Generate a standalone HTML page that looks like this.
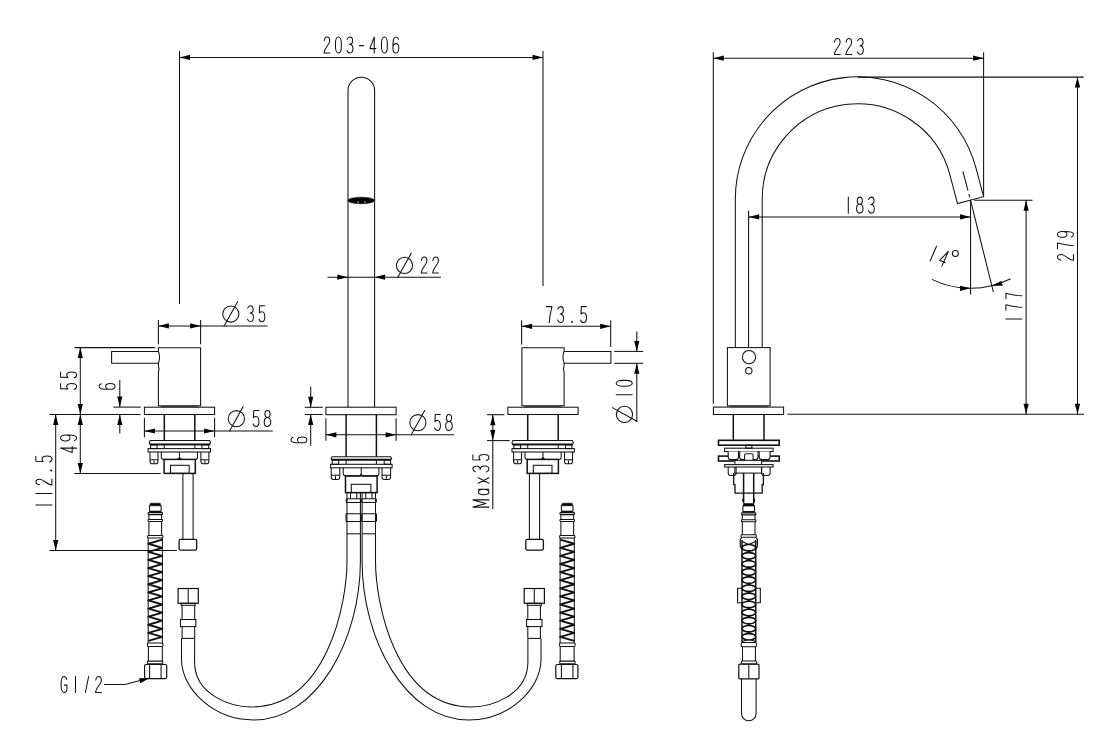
<!DOCTYPE html>
<html><head><meta charset="utf-8"><style>
html,body{margin:0;padding:0;background:#fff;}
svg{display:block;}
</style></head><body>
<svg width="1094" height="741" viewBox="0 0 1094 741">
<rect width="1094" height="741" fill="#fff"/>
<g fill="none" stroke="#111" stroke-width="1.05">
<g id="H"><path d="M158.4,347.8 H200.6 V405.8 H158.4 V373 Q159.7,369 158.4,365.3 V363.3 Q160.8,357.4 158.4,351.5 Z"/><rect x="160.8" y="405.4" width="37.6" height="1.8" stroke-width="0.01" fill="#555"/><path d="M158.4,351.5 H111.6 V363.3 H158.4"/><rect x="144.4" y="407.2" width="70.2" height="7.3"/><path d="M164.3,414.5 L164.3,440.5" stroke-width="1.5"/><path d="M194.8,414.5 L194.8,440.5" stroke-width="1.5"/><path d="M150.2,440.5 H209.6 L210.6,442.8 L209.6,444.8 H150.2 L149.2,442.8 Z"/><path d="M149.8,444.4 L210,444.4" stroke-width="1.6"/><rect x="150.6" y="444.8" width="6.4" height="3.8"/><rect x="201.9" y="444.8" width="6.8" height="3.8"/><path d="M164.3,444.8 L164.3,448.6"/><path d="M194.8,444.8 L194.8,448.6"/><rect x="148.1" y="448.6" width="62.4" height="3.4"/><path d="M150,452 V461.5 Q150,463.8 152.2,463.8 H155.8 Q158,463.8 158,461.5 V452"/><path d="M150,459.8 L158,459.8"/><path d="M154,460.5 L154,463.8"/><path d="M200.9,452 V461.5 Q200.9,463.8 203.1,463.8 H206.7 Q208.9,463.8 208.9,461.5 V452"/><path d="M200.9,459.8 L208.9,459.8"/><path d="M204.9,460.5 L204.9,463.8"/><path d="M161.3,452 V457.2 Q161.3,459.4 163.6,459.4 H176.8 Q179.5,459.4 179.5,456.5 Q179.5,459.4 182.2,459.4 H195.2 Q197.5,459.4 197.5,457.2 V452"/><path d="M179.5,452 L179.5,456.5"/><rect x="164.1" y="459.4" width="31.2" height="14" stroke-width="1.5"/><rect x="170.5" y="465.3" width="18.7" height="8.1"/><path d="M182.9,473.4 L182.9,539.3"/><path d="M193.1,473.4 L193.1,539.3"/><rect x="179.1" y="539.3" width="17.6" height="10.8" rx="1.6" stroke-width="1.3"/><path d="M150.5,503.2 H160.1 L161.1,505.8 H149.5 Z" stroke-width="0.6" fill="#000"/><path d="M149.5,505.5 L149.5,511.8"/><path d="M161.1,505.5 L161.1,511.8"/><path d="M149.5,511.5 L161.1,511.5" stroke-width="1.6"/><rect x="148" y="512.6" width="14.6" height="2" rx="0.8"/><path d="M148.9,514.6 L148.9,519.4"/><path d="M161.6,514.6 L161.6,519.4"/><rect x="148" y="519.4" width="14.6" height="2" rx="0.8"/><path d="M148.9,521.4 L148.9,535.4"/><path d="M161.6,521.4 L161.6,535.4"/><rect x="147.6" y="535.4" width="15.3" height="2.6" rx="0.8"/><path d="M148.2,538 L148.2,643"/><path d="M162.4,538 L162.4,643"/><path d="M162.3,539.7 L148.3,543.75 L162.3,547.8 L148.3,551.85 L162.3,555.9 L148.3,559.95 L162.3,564 L148.3,568.05 L162.3,572.1 L148.3,576.15 L162.3,580.2 L148.3,584.25 L162.3,588.3 L148.3,592.35 L162.3,596.4 L148.3,600.45 L162.3,604.5 L148.3,608.55 L162.3,612.6 L148.3,616.65 L162.3,620.7 L148.3,624.75 L162.3,628.8 L148.3,632.85 L162.3,636.9 L148.3,640.95" stroke-width="1.85" stroke-linejoin="round"/><rect x="147.4" y="643" width="15.5" height="3.4" rx="0.8"/><path d="M148.4,646.4 L148.4,661.1"/><path d="M162.3,646.4 L162.3,661.1"/><rect x="147.4" y="661.1" width="15.4" height="2.8" rx="0.8"/><rect x="144.6" y="664.5" width="22.1" height="14.2" rx="1.5" stroke-width="1.2"/><path d="M149.6,664.5 L149.6,678.7"/><path d="M161.1,664.5 L161.1,678.7"/><rect x="178.1" y="588.5" width="20.2" height="14.8" stroke-width="1.2"/><path d="M188.2,588.5 L188.2,603.3"/><rect x="181.1" y="603.3" width="14.2" height="2"/><path d="M182.1,605.3 L182.1,619.5"/><path d="M194.7,605.3 L194.7,619.5"/><rect x="180.5" y="619.5" width="15.4" height="7.1"/><path d="M182.1,626.6 L182.1,638.4"/><path d="M194.7,626.6 L194.7,638.4"/><path d="M181.5,638.4 L194.6,638.4"/><path d="M181.5,638.4 V659.56 C181.5,688.7 212.89,720.01 253.86,720.01 C317.19,720.01 360.4,639.28 360.4,561 V533.8"/><path d="M194.6,638.4 V662.03 C194.6,695.64 232.03,706.93 251.53,706.93 C327,706.93 347,603.17 347,561 V533.8"/><path d="M347,492.6 L347,533.8"/><path d="M360.4,492.6 L360.4,533.8"/><path d="M350.5,492.6 L350.5,498.8"/><path d="M356.8,492.6 L356.8,498.8"/><rect x="346.2" y="498.8" width="14.6" height="3.8" rx="0.8"/><rect x="346" y="513.7" width="14.8" height="7.8" rx="0.8"/><path d="M347,533.8 L360.4,533.8"/></g><use href="#H" transform="matrix(-1,0,0,1,722.5,0)"/><path d="M348,407.2 V90.5 A13.3,13.3 0 0 1 374.6,90.5 V407.2"/><ellipse cx="361.2" cy="200.5" rx="13.3" ry="3.3" stroke-width="0.6" fill="#000"/><path d="M357,202.1 H359 M364,202.1 H366" stroke="#fff" stroke-width="0.7"/><rect x="325.9" y="407.2" width="70.2" height="7.5"/><path d="M346.1,414.7 L346.1,456.7" stroke-width="1.5"/><path d="M376.4,414.7 L376.4,456.7" stroke-width="1.5"/><path d="M332.1,456.7 H390.6 L391.6,458.4 L390.6,459.9 H332.1 L331.1,458.4 Z"/><path d="M331.7,459.6 L391,459.6" stroke-width="1.6"/><rect x="332.2" y="459.9" width="6.4" height="4.4"/><rect x="384.2" y="459.9" width="6.4" height="4.4"/><path d="M346.1,459.9 L346.1,464.3"/><path d="M376.4,459.9 L376.4,464.3"/><rect x="330.6" y="464.3" width="61.5" height="3.5"/><path d="M331.2,467.8 V477 Q331.2,479.4 333.5,479.4 H337.5 Q339.8,479.4 339.8,477 V467.8"/><path d="M331.2,475.2 L339.8,475.2"/><path d="M335.5,476 L335.5,479.4"/><path d="M382,467.8 V477 Q382,479.4 384.3,479.4 H388.3 Q390.6,479.4 390.6,477 V467.8"/><path d="M382,475.2 L390.6,475.2"/><path d="M386.3,476 L386.3,479.4"/><path d="M343.2,467.8 V473.6 Q343.2,475.9 345.6,475.9 H358.2 Q361.2,475.9 361.2,472.8 Q361.2,475.9 364.2,475.9 H376.6 Q378.9,475.9 378.9,473.6 V467.8"/><path d="M361.2,467.8 L361.2,472.8"/><rect x="345.5" y="475.9" width="31.6" height="16.7" stroke-width="1.5"/><rect x="351.3" y="484.3" width="19.6" height="8.3"/><path d="M179.5,51 L179.5,304"/><path d="M543,51 L543,286"/><path d="M179.5,57.4 L543,57.4"/><path d="M179.5,57.4 L190,54.8 L190,60 Z" fill="#000" stroke="none"/><path d="M543,57.4 L532.5,60 L532.5,54.8 Z" fill="#000" stroke="none"/><g transform="translate(326.9,37)" stroke-width="1.05" stroke-linejoin="round" stroke-linecap="round"><path transform="translate(0,0)" d="M -2.752 3.6 C -2.236 0.8 -1.032 0 0.086 0 C 1.806 0 2.838 1.6 2.838 3.9 C 2.838 7.6 -2.838 11.2 -2.924 16 H 2.924"/><path transform="translate(11.5,0)" d="M -2.924 6.3 A 2.924 6.3 0 0 1 2.924 6.3 V 9.7 A 2.924 6.3 0 0 1 -2.924 9.7 Z"/><path transform="translate(23,0)" d="M -2.752 2.4 C -2.064 0.7 -1.032 0 0.086 0 C 1.634 0 2.752 1.6 2.752 3.7 C 2.752 5.8 1.548 7.3 -0.43 7.3 C 1.806 7.3 3.01 9.2 3.01 11.6 C 3.01 14.4 1.72 16 0 16 C -1.29 16 -2.408 15 -2.924 13.5"/><path transform="translate(34.5,0)" d="M -2.064 8.6 H 2.064"/><path transform="translate(46,0)" d="M 1.376 0 L -3.01 11.6 H 3.01 M 1.376 0 V 16"/><path transform="translate(57.5,0)" d="M -2.924 6.3 A 2.924 6.3 0 0 1 2.924 6.3 V 9.7 A 2.924 6.3 0 0 1 -2.924 9.7 Z"/><path transform="translate(69,0)" d="M 2.58 2.2 C 1.978 0.7 1.118 0 0 0 C -2.064 0 -2.924 3.2 -2.924 8.2 V 11.2 C -2.924 14.4 -1.634 16 0 16 C 1.72 16 2.924 14.3 2.924 11.2 C 2.924 8.3 1.72 6.6 0 6.6 C -1.634 6.6 -2.924 8.3 -2.924 10.6"/></g><path d="M327.5,277.2 L440.9,277.2"/><path d="M347.8,277.2 L337.3,279.8 L337.3,274.6 Z" fill="#000" stroke="none"/><path d="M374.6,277.2 L385.1,274.6 L385.1,279.8 Z" fill="#000" stroke="none"/><g transform="translate(404.5,257)" stroke-width="1.05" stroke-linejoin="round" stroke-linecap="round"><circle cx="0" cy="8.3" r="8.1"/><path d="M-6.8,20.6 L6.8,-3.9"/><path transform="translate(19.6,0)" d="M -2.752 3.6 C -2.236 0.8 -1.032 0 0.086 0 C 1.806 0 2.838 1.6 2.838 3.9 C 2.838 7.6 -2.838 11.2 -2.924 16 H 2.924"/><path transform="translate(31.1,0)" d="M -2.752 3.6 C -2.236 0.8 -1.032 0 0.086 0 C 1.806 0 2.838 1.6 2.838 3.9 C 2.838 7.6 -2.838 11.2 -2.924 16 H 2.924"/></g><path d="M158.4,320 L158.4,344.2"/><path d="M200.6,320 L200.6,344.2"/><path d="M158.4,325.9 L267.6,325.9"/><path d="M158.4,325.9 L168.9,323.3 L168.9,328.5 Z" fill="#000" stroke="none"/><path d="M200.6,325.9 L190.1,328.5 L190.1,323.3 Z" fill="#000" stroke="none"/><g transform="translate(230.8,305.7)" stroke-width="1.05" stroke-linejoin="round" stroke-linecap="round"><circle cx="0" cy="8.3" r="8.1"/><path d="M-6.8,20.6 L6.8,-3.9"/><path transform="translate(19.6,0)" d="M -2.752 2.4 C -2.064 0.7 -1.032 0 0.086 0 C 1.634 0 2.752 1.6 2.752 3.7 C 2.752 5.8 1.548 7.3 -0.43 7.3 C 1.806 7.3 3.01 9.2 3.01 11.6 C 3.01 14.4 1.72 16 0 16 C -1.29 16 -2.408 15 -2.924 13.5"/><path transform="translate(31.1,0)" d="M 2.752 0 H -2.236 L -2.58 7.3 C -1.806 6.5 -0.86 6.1 0.172 6.1 C 1.892 6.1 2.924 8.2 2.924 11 C 2.924 14 1.72 16 0 16 C -1.376 16 -2.494 15 -2.924 13.5"/></g><path d="M74.5,347.6 L155.2,347.6"/><path d="M80.3,347.6 L80.3,414.4"/><path d="M80.3,347.6 L82.9,358.1 L77.7,358.1 Z" fill="#000" stroke="none"/><path d="M80.3,414.4 L77.7,403.9 L82.9,403.9 Z" fill="#000" stroke="none"/><g transform="translate(60.6,386.4) rotate(-90)" stroke-width="1.05" stroke-linejoin="round" stroke-linecap="round"><path transform="translate(0,0)" d="M 2.752 0 H -2.236 L -2.58 7.3 C -1.806 6.5 -0.86 6.1 0.172 6.1 C 1.892 6.1 2.924 8.2 2.924 11 C 2.924 14 1.72 16 0 16 C -1.376 16 -2.494 15 -2.924 13.5"/><path transform="translate(11.5,0)" d="M 2.752 0 H -2.236 L -2.58 7.3 C -1.806 6.5 -0.86 6.1 0.172 6.1 C 1.892 6.1 2.924 8.2 2.924 11 C 2.924 14 1.72 16 0 16 C -1.376 16 -2.494 15 -2.924 13.5"/></g><path d="M113.3,407.1 L140.8,407.1"/><path d="M119.8,380.1 L119.8,407.1"/><path d="M119.8,407.1 L117.2,396.6 L122.4,396.6 Z" fill="#000" stroke="none"/><path d="M119.8,414.4 L119.8,433.4"/><path d="M119.8,414.4 L122.4,424.9 L117.2,424.9 Z" fill="#000" stroke="none"/><g transform="translate(99,386.4) rotate(-90)" stroke-width="1.05" stroke-linejoin="round" stroke-linecap="round"><path transform="translate(0,0)" d="M 2.58 2.2 C 1.978 0.7 1.118 0 0 0 C -2.064 0 -2.924 3.2 -2.924 8.2 V 11.2 C -2.924 14.4 -1.634 16 0 16 C 1.72 16 2.924 14.3 2.924 11.2 C 2.924 8.3 1.72 6.6 0 6.6 C -1.634 6.6 -2.924 8.3 -2.924 10.6"/></g><path d="M49.4,414.4 L140.6,414.4"/><path d="M80.3,414.4 L80.3,473.4"/><path d="M80.3,414.4 L82.9,424.9 L77.7,424.9 Z" fill="#000" stroke="none"/><path d="M80.3,473.4 L77.7,462.9 L82.9,462.9 Z" fill="#000" stroke="none"/><path d="M74.3,473.4 L160.7,473.4"/><g transform="translate(60.6,449.5) rotate(-90)" stroke-width="1.05" stroke-linejoin="round" stroke-linecap="round"><path transform="translate(0,0)" d="M 1.376 0 L -3.01 11.6 H 3.01 M 1.376 0 V 16"/><path transform="translate(11.5,0)" d="M -2.58 13.8 C -1.978 15.3 -1.118 16 0 16 C 2.064 16 2.924 12.8 2.924 7.8 V 4.8 C 2.924 1.6 1.634 0 0 0 C -1.72 0 -2.924 1.7 -2.924 4.8 C -2.924 7.7 -1.72 9.4 0 9.4 C 1.634 9.4 2.924 7.7 2.924 5.4"/></g><path d="M55.7,414.4 L55.7,550.5"/><path d="M55.7,414.4 L58.3,424.9 L53.1,424.9 Z" fill="#000" stroke="none"/><path d="M55.7,550.5 L53.1,540 L58.3,540 Z" fill="#000" stroke="none"/><path d="M49.4,550.5 L176.9,550.5"/><g transform="translate(35.9,505) rotate(-90)" stroke-width="1.05" stroke-linejoin="round" stroke-linecap="round"><path transform="translate(0,0)" d="M 0 0 V 16"/><path transform="translate(11.5,0)" d="M 0 0 V 16"/><path transform="translate(23,0)" d="M -2.752 3.6 C -2.236 0.8 -1.032 0 0.086 0 C 1.806 0 2.838 1.6 2.838 3.9 C 2.838 7.6 -2.838 11.2 -2.924 16 H 2.924"/><circle cx="34.5" cy="15.3" r="0.95" fill="#000" stroke="none"/><path transform="translate(46,0)" d="M 2.752 0 H -2.236 L -2.58 7.3 C -1.806 6.5 -0.86 6.1 0.172 6.1 C 1.892 6.1 2.924 8.2 2.924 11 C 2.924 14 1.72 16 0 16 C -1.376 16 -2.494 15 -2.924 13.5"/></g><path d="M144.4,417.8 L144.4,437.3"/><path d="M214.6,417.8 L214.6,437.3"/><path d="M144.4,431 L272.8,431"/><path d="M144.4,431 L154.9,428.4 L154.9,433.6 Z" fill="#000" stroke="none"/><path d="M214.6,431 L204.1,433.6 L204.1,428.4 Z" fill="#000" stroke="none"/><g transform="translate(236.4,410.4)" stroke-width="1.05" stroke-linejoin="round" stroke-linecap="round"><circle cx="0" cy="8.3" r="8.1"/><path d="M-6.8,20.6 L6.8,-3.9"/><path transform="translate(19.6,0)" d="M 2.752 0 H -2.236 L -2.58 7.3 C -1.806 6.5 -0.86 6.1 0.172 6.1 C 1.892 6.1 2.924 8.2 2.924 11 C 2.924 14 1.72 16 0 16 C -1.376 16 -2.494 15 -2.924 13.5"/><path transform="translate(31.1,0)" d="M 0 7.1 C -1.634 7.1 -2.58 5.6 -2.58 3.6 C -2.58 1.5 -1.548 0 0 0 C 1.548 0 2.58 1.5 2.58 3.6 C 2.58 5.6 1.634 7.1 0 7.1 C -1.978 7.1 -3.268 9 -3.268 11.5 C -3.268 14.2 -1.806 16 0 16 C 1.806 16 3.268 14.2 3.268 11.5 C 3.268 9 1.978 7.1 0 7.1 Z"/></g><path d="M304.8,407.3 L322.8,407.3"/><path d="M304.8,414.5 L322.8,414.5"/><path d="M310.7,386.6 L310.7,407.3"/><path d="M310.7,407.3 L308.1,396.8 L313.3,396.8 Z" fill="#000" stroke="none"/><path d="M310.7,414.5 L310.7,445.7"/><path d="M310.7,414.5 L313.3,425 L308.1,425 Z" fill="#000" stroke="none"/><g transform="translate(290.9,439.9) rotate(-90)" stroke-width="1.05" stroke-linejoin="round" stroke-linecap="round"><path transform="translate(0,0)" d="M 2.58 2.2 C 1.978 0.7 1.118 0 0 0 C -2.064 0 -2.924 3.2 -2.924 8.2 V 11.2 C -2.924 14.4 -1.634 16 0 16 C 1.72 16 2.924 14.3 2.924 11.2 C 2.924 8.3 1.72 6.6 0 6.6 C -1.634 6.6 -2.924 8.3 -2.924 10.6"/></g><path d="M325.9,418.2 L325.9,440.8"/><path d="M396.1,418.2 L396.1,440.8"/><path d="M325.9,434.8 L454.1,434.8"/><path d="M325.9,434.8 L336.4,432.2 L336.4,437.4 Z" fill="#000" stroke="none"/><path d="M396.1,434.8 L385.6,437.4 L385.6,432.2 Z" fill="#000" stroke="none"/><g transform="translate(417.9,414.4)" stroke-width="1.05" stroke-linejoin="round" stroke-linecap="round"><circle cx="0" cy="8.3" r="8.1"/><path d="M-6.8,20.6 L6.8,-3.9"/><path transform="translate(19.6,0)" d="M 2.752 0 H -2.236 L -2.58 7.3 C -1.806 6.5 -0.86 6.1 0.172 6.1 C 1.892 6.1 2.924 8.2 2.924 11 C 2.924 14 1.72 16 0 16 C -1.376 16 -2.494 15 -2.924 13.5"/><path transform="translate(31.1,0)" d="M 0 7.1 C -1.634 7.1 -2.58 5.6 -2.58 3.6 C -2.58 1.5 -1.548 0 0 0 C 1.548 0 2.58 1.5 2.58 3.6 C 2.58 5.6 1.634 7.1 0 7.1 C -1.978 7.1 -3.268 9 -3.268 11.5 C -3.268 14.2 -1.806 16 0 16 C 1.806 16 3.268 14.2 3.268 11.5 C 3.268 9 1.978 7.1 0 7.1 Z"/></g><path d="M521.6,320.2 L521.6,344.8"/><path d="M610.7,320.2 L610.7,347"/><path d="M521.6,326.3 L610.7,326.3"/><path d="M521.6,326.3 L532.1,323.7 L532.1,328.9 Z" fill="#000" stroke="none"/><path d="M610.7,326.3 L600.2,328.9 L600.2,323.7 Z" fill="#000" stroke="none"/><g transform="translate(549.1,306.6)" stroke-width="1.05" stroke-linejoin="round" stroke-linecap="round"><path transform="translate(0,0)" d="M -2.838 0 H 2.838 C 1.806 4 0.516 9.5 0.172 16"/><path transform="translate(11.5,0)" d="M -2.752 2.4 C -2.064 0.7 -1.032 0 0.086 0 C 1.634 0 2.752 1.6 2.752 3.7 C 2.752 5.8 1.548 7.3 -0.43 7.3 C 1.806 7.3 3.01 9.2 3.01 11.6 C 3.01 14.4 1.72 16 0 16 C -1.29 16 -2.408 15 -2.924 13.5"/><circle cx="23" cy="15.3" r="0.95" fill="#000" stroke="none"/><path transform="translate(34.5,0)" d="M 2.752 0 H -2.236 L -2.58 7.3 C -1.806 6.5 -0.86 6.1 0.172 6.1 C 1.892 6.1 2.924 8.2 2.924 11 C 2.924 14 1.72 16 0 16 C -1.376 16 -2.494 15 -2.924 13.5"/></g><path d="M614.2,351.4 L643.2,351.4"/><path d="M614.2,363.3 L643.2,363.3"/><path d="M636.8,331.4 L636.8,351.4"/><path d="M636.8,351.4 L634.2,340.9 L639.4,340.9 Z" fill="#000" stroke="none"/><path d="M636.8,363.3 L636.8,421.9"/><path d="M636.8,363.3 L639.4,373.8 L634.2,373.8 Z" fill="#000" stroke="none"/><g transform="translate(616.2,414.4) rotate(-90)" stroke-width="1.05" stroke-linejoin="round" stroke-linecap="round"><circle cx="0" cy="8.3" r="8.1"/><path d="M-6.8,20.6 L6.8,-3.9"/><path transform="translate(19.6,0)" d="M 0 0 V 16"/><path transform="translate(31.1,0)" d="M -2.924 6.3 A 2.924 6.3 0 0 1 2.924 6.3 V 9.7 A 2.924 6.3 0 0 1 -2.924 9.7 Z"/></g><path d="M487,414.7 L504.3,414.7"/><path d="M487,440.6 L509.7,440.6"/><path d="M492.8,414.7 L492.8,509.1"/><path d="M492.8,414.7 L495.4,425.2 L490.2,425.2 Z" fill="#000" stroke="none"/><path d="M492.8,440.6 L490.2,430.1 L495.4,430.1 Z" fill="#000" stroke="none"/><g transform="translate(472.9,503.5) rotate(-90)" stroke-width="1.05" stroke-linejoin="round" stroke-linecap="round"><path transform="translate(0,0)" d="M -3.612 16 V 0 L 0 13 L 3.612 0 V 16"/><path transform="translate(11.5,0)" d="M 2.752 5.4 V 16 M 2.752 10.7 C 2.752 7.4 1.548 5.4 0 5.4 C -1.634 5.4 -2.752 7.6 -2.752 10.7 C -2.752 13.8 -1.634 16 0 16 C 1.548 16 2.752 14 2.752 10.7"/><path transform="translate(23,0)" d="M -2.666 5.4 L 2.666 16 M 2.666 5.4 L -2.666 16"/><path transform="translate(34.5,0)" d="M -2.752 2.4 C -2.064 0.7 -1.032 0 0.086 0 C 1.634 0 2.752 1.6 2.752 3.7 C 2.752 5.8 1.548 7.3 -0.43 7.3 C 1.806 7.3 3.01 9.2 3.01 11.6 C 3.01 14.4 1.72 16 0 16 C -1.29 16 -2.408 15 -2.924 13.5"/><path transform="translate(46,0)" d="M 2.752 0 H -2.236 L -2.58 7.3 C -1.806 6.5 -0.86 6.1 0.172 6.1 C 1.892 6.1 2.924 8.2 2.924 11 C 2.924 14 1.72 16 0 16 C -1.376 16 -2.494 15 -2.924 13.5"/></g><g transform="translate(64,676.5)" stroke-width="1.05" stroke-linejoin="round" stroke-linecap="round"><path transform="translate(0,0)" d="M 2.752 2.8 C 2.236 0.9 1.204 0 0 0 C -1.892 0 -2.924 3 -2.924 8 C -2.924 13 -1.892 16 0 16 C 1.462 16 2.752 14.6 2.924 12.2 V 8.6 H 0.258"/><path transform="translate(11.5,0)" d="M 0 0 V 16"/><path transform="translate(23,0)" d="M -1.634 16 L 1.634 0"/><path transform="translate(34.5,0)" d="M -2.752 3.6 C -2.236 0.8 -1.032 0 0.086 0 C 1.806 0 2.838 1.6 2.838 3.9 C 2.838 7.6 -2.838 11.2 -2.924 16 H 2.924"/></g><path d="M104,684.4 L124.9,684.4 L149.8,678.1"/><path d="M149.8,678.1 L140.26,683.2 L138.98,678.15 Z" fill="#000" stroke="none"/><path d="M735.3,347.6 V199.2 A122.35,122.35 0 0 1 975.94,167.95 L983.6,196.7 L957.5,203.6 L949.93,174.82 A95.45,95.45 0 0 0 762.2,199.2 V347.6"/><path d="M962.9,171.4 L967.96,190.54"/><path d="M968.88,194.02 L969.77,197.41"/><path d="M713.3,52.3 L713.3,403.7"/><path d="M983.6,52.3 L983.6,196.7"/><path d="M713.3,58.2 L983.6,58.2"/><path d="M713.3,58.2 L723.8,55.6 L723.8,60.8 Z" fill="#000" stroke="none"/><path d="M983.6,58.2 L973.1,60.8 L973.1,55.6 Z" fill="#000" stroke="none"/><g transform="translate(837.3,38.5)" stroke-width="1.05" stroke-linejoin="round" stroke-linecap="round"><path transform="translate(0,0)" d="M -2.752 3.6 C -2.236 0.8 -1.032 0 0.086 0 C 1.806 0 2.838 1.6 2.838 3.9 C 2.838 7.6 -2.838 11.2 -2.924 16 H 2.924"/><path transform="translate(11.5,0)" d="M -2.752 3.6 C -2.236 0.8 -1.032 0 0.086 0 C 1.806 0 2.838 1.6 2.838 3.9 C 2.838 7.6 -2.838 11.2 -2.924 16 H 2.924"/><path transform="translate(23,0)" d="M -2.752 2.4 C -2.064 0.7 -1.032 0 0.086 0 C 1.634 0 2.752 1.6 2.752 3.7 C 2.752 5.8 1.548 7.3 -0.43 7.3 C 1.806 7.3 3.01 9.2 3.01 11.6 C 3.01 14.4 1.72 16 0 16 C -1.29 16 -2.408 15 -2.924 13.5"/></g><path d="M748.6,210.8 L748.6,347.6"/><path d="M748.6,216.9 L970.55,216.9"/><path d="M748.6,216.9 L759.1,214.3 L759.1,219.5 Z" fill="#000" stroke="none"/><path d="M970.55,216.9 L960.05,219.5 L960.05,214.3 Z" fill="#000" stroke="none"/><g transform="translate(848.3,197.1)" stroke-width="1.05" stroke-linejoin="round" stroke-linecap="round"><path transform="translate(0,0)" d="M 0 0 V 16"/><path transform="translate(11.5,0)" d="M 0 7.1 C -1.634 7.1 -2.58 5.6 -2.58 3.6 C -2.58 1.5 -1.548 0 0 0 C 1.548 0 2.58 1.5 2.58 3.6 C 2.58 5.6 1.634 7.1 0 7.1 C -1.978 7.1 -3.268 9 -3.268 11.5 C -3.268 14.2 -1.806 16 0 16 C 1.806 16 3.268 14.2 3.268 11.5 C 3.268 9 1.978 7.1 0 7.1 Z"/><path transform="translate(23,0)" d="M -2.752 2.4 C -2.064 0.7 -1.032 0 0.086 0 C 1.634 0 2.752 1.6 2.752 3.7 C 2.752 5.8 1.548 7.3 -0.43 7.3 C 1.806 7.3 3.01 9.2 3.01 11.6 C 3.01 14.4 1.72 16 0 16 C -1.29 16 -2.408 15 -2.924 13.5"/></g><path d="M970.55,200.3 L970.55,294.6"/><path d="M970.55,200.3 L993.36,291.8"/><path d="M931.9,279.4 A88.2,88.2 0 0 0 1010.6,278.7"/><path d="M970.55,288.35 L960.05,290.95 L960.05,285.75 Z" fill="#000" stroke="none"/><path d="M991.89,285.73 L1001.45,280.67 L1002.7,285.71 Z" fill="#000" stroke="none"/><g transform="translate(936.5,246.3) rotate(23.6)" stroke-width="1.05" stroke-linejoin="round" stroke-linecap="round"><path transform="translate(0,0)" d="M 0 0 V 16"/><path transform="translate(11.5,0)" d="M 1.376 0 L -3.01 11.6 H 3.01 M 1.376 0 V 16"/></g><circle cx="955.4" cy="253.4" r="3" stroke-width="1.05"/><path d="M974.3,200.3 L1032.5,200.3"/><path d="M1026.1,200.3 L1026.1,414.3"/><path d="M1026.1,200.3 L1028.7,210.8 L1023.5,210.8 Z" fill="#000" stroke="none"/><path d="M1026.1,414.3 L1023.5,403.8 L1028.7,403.8 Z" fill="#000" stroke="none"/><g transform="translate(1005.9,319) rotate(-90)" stroke-width="1.05" stroke-linejoin="round" stroke-linecap="round"><path transform="translate(0,0)" d="M 0 0 V 16"/><path transform="translate(11.5,0)" d="M -2.838 0 H 2.838 C 1.806 4 0.516 9.5 0.172 16"/><path transform="translate(23,0)" d="M -2.838 0 H 2.838 C 1.806 4 0.516 9.5 0.172 16"/></g><path d="M858,77.1 L1083.7,77.1"/><path d="M1077.5,77.1 L1077.5,414.3"/><path d="M1077.5,77.1 L1080.1,87.6 L1074.9,87.6 Z" fill="#000" stroke="none"/><path d="M1077.5,414.3 L1074.9,403.8 L1080.1,403.8 Z" fill="#000" stroke="none"/><g transform="translate(1057.5,257.4) rotate(-90)" stroke-width="1.05" stroke-linejoin="round" stroke-linecap="round"><path transform="translate(0,0)" d="M -2.752 3.6 C -2.236 0.8 -1.032 0 0.086 0 C 1.806 0 2.838 1.6 2.838 3.9 C 2.838 7.6 -2.838 11.2 -2.924 16 H 2.924"/><path transform="translate(11.5,0)" d="M -2.838 0 H 2.838 C 1.806 4 0.516 9.5 0.172 16"/><path transform="translate(23,0)" d="M -2.58 13.8 C -1.978 15.3 -1.118 16 0 16 C 2.064 16 2.924 12.8 2.924 7.8 V 4.8 C 2.924 1.6 1.634 0 0 0 C -1.72 0 -2.924 1.7 -2.924 4.8 C -2.924 7.7 -1.72 9.4 0 9.4 C 1.634 9.4 2.924 7.7 2.924 5.4"/></g><path d="M787.4,414.3 L1084,414.3"/><rect x="727.4" y="347.6" width="42.7" height="58.2"/><rect x="729.8" y="405.4" width="38" height="1.8" stroke-width="0.01" fill="#555"/><circle cx="749" cy="357.1" r="6.6"/><circle cx="748.8" cy="370.7" r="3.2"/><rect x="713.4" y="407.1" width="70.2" height="7.4"/><path d="M733.3,414.5 L733.3,440.3" stroke-width="1.5"/><path d="M764,414.5 L764,440.3" stroke-width="1.5"/><rect x="718.5" y="440.3" width="60.7" height="4.9" stroke-width="1.6"/><rect x="745.8" y="445.2" width="6.1" height="3"/><rect x="724.6" y="448.2" width="48.5" height="3.4"/><rect x="718.5" y="456.1" width="60.7" height="4.9" stroke-width="1.6"/><path d="M728.2,451.6 V457 Q728.2,459.6 730.7,459.6 H736 Q738.5,459.6 738.5,457 V451.6" fill="#fff"/><path d="M759.2,451.6 V457 Q759.2,459.6 761.7,459.6 H767.6 Q770.1,459.6 770.1,457 V451.6" fill="#fff"/><path d="M739.7,451.6 V457 Q739.7,459.6 742.2,459.6 H755.5 Q758,459.6 758,457 V451.6" fill="#fff"/><rect x="744.6" y="453.7" width="8.5" height="9.7" rx="1.2" fill="#fff"/><rect x="734.9" y="460.3" width="26.7" height="12.8" fill="#fff"/><rect x="724.6" y="464.6" width="48.5" height="2.4" fill="#fff"/><path d="M728.2,467 V473 Q728.2,475.5 730.6,475.5 H733.7 Q736.1,475.5 736.1,473 V467"/><path d="M761.6,467 V473 Q761.6,475.5 764,475.5 H767.7 Q770.1,475.5 770.1,473 V467"/><path d="M733.7,473 V484.6 H735 V493.1 H762.2 V484.6 H763.4 V473" stroke-width="1.3"/><path d="M743.6,473 L743.6,503.6" stroke-width="1.5"/><path d="M753.7,473 L753.7,503.6" stroke-width="1.5"/><path d="M743.6,498.6 Q741.6,500.4 743.6,502.2 M753.7,498.6 Q755.7,500.4 753.7,502.2"/><g transform="translate(593.4,0.3)"><path d="M150.5,503.2 H160.1 L161.1,505.8 H149.5 Z" stroke-width="0.6" fill="#000"/><path d="M149.5,505.5 L149.5,511.8"/><path d="M161.1,505.5 L161.1,511.8"/><path d="M149.5,511.5 L161.1,511.5" stroke-width="1.6"/><rect x="148" y="512.6" width="14.6" height="2" rx="0.8"/><path d="M148.9,514.6 L148.9,519.4"/><path d="M161.6,514.6 L161.6,519.4"/><rect x="148" y="519.4" width="14.6" height="2" rx="0.8"/><path d="M148.9,521.4 L148.9,534.4"/><path d="M161.6,521.4 L161.6,534.4"/><rect x="147.6" y="534.4" width="15.3" height="2.6" rx="0.8"/></g><path d="M742,537.3 L740.3,539.5 V546.5 L742,549.5 M755.7,537.3 L757.4,539.5 V546.5 L755.7,549.5" stroke-width="1.2"/><path d="M742.2,541.5 L755.5,547.7" stroke-width="1.3"/><path d="M755.5,541.5 L742.2,547.7" stroke-width="1.3"/><path d="M742.2,547.7 L755.5,555.8" stroke-width="1.3"/><path d="M755.5,547.7 L742.2,555.8" stroke-width="1.3"/><path d="M742.2,555.8 L755.5,563.9" stroke-width="1.3"/><path d="M755.5,555.8 L742.2,563.9" stroke-width="1.3"/><path d="M742.2,563.9 L755.5,572" stroke-width="1.3"/><path d="M755.5,563.9 L742.2,572" stroke-width="1.3"/><path d="M742.2,572 L755.5,580.1" stroke-width="1.3"/><path d="M755.5,572 L742.2,580.1" stroke-width="1.3"/><path d="M742.2,580.1 L755.5,588.2" stroke-width="1.3"/><path d="M755.5,580.1 L742.2,588.2" stroke-width="1.3"/><path d="M742.2,588.2 L755.5,596.3" stroke-width="1.3"/><path d="M755.5,588.2 L742.2,596.3" stroke-width="1.3"/><path d="M742.2,596.3 L755.5,604.4" stroke-width="1.3"/><path d="M755.5,596.3 L742.2,604.4" stroke-width="1.3"/><path d="M742.2,604.4 L755.5,612.5" stroke-width="1.3"/><path d="M755.5,604.4 L742.2,612.5" stroke-width="1.3"/><path d="M742.2,612.5 L755.5,620.6" stroke-width="1.3"/><path d="M755.5,612.5 L742.2,620.6" stroke-width="1.3"/><path d="M742.2,620.6 L755.5,628.7" stroke-width="1.3"/><path d="M755.5,620.6 L742.2,628.7" stroke-width="1.3"/><path d="M742.2,628.7 L755.5,636.8" stroke-width="1.3"/><path d="M755.5,628.7 L742.2,636.8" stroke-width="1.3"/><path d="M742.2,636.8 L755.5,641.5" stroke-width="1.3"/><path d="M755.5,636.8 L742.2,641.5" stroke-width="1.3"/><path d="M742,540 L742,642.4" stroke-width="1.5"/><path d="M755.7,540 L755.7,642.4" stroke-width="1.5"/><ellipse cx="748.85" cy="547.7" rx="6.8" ry="3.2" stroke-width="1.6" fill="#fff"/><ellipse cx="748.85" cy="555.8" rx="6.8" ry="3.2" stroke-width="1.6" fill="#fff"/><ellipse cx="748.85" cy="563.9" rx="6.8" ry="3.2" stroke-width="1.6" fill="#fff"/><ellipse cx="748.85" cy="572" rx="6.8" ry="3.2" stroke-width="1.6" fill="#fff"/><ellipse cx="748.85" cy="580.1" rx="6.8" ry="3.2" stroke-width="1.6" fill="#fff"/><ellipse cx="748.85" cy="588.2" rx="6.8" ry="3.2" stroke-width="1.6" fill="#fff"/><ellipse cx="748.85" cy="596.3" rx="6.8" ry="3.2" stroke-width="1.6" fill="#fff"/><ellipse cx="748.85" cy="604.4" rx="6.8" ry="3.2" stroke-width="1.6" fill="#fff"/><ellipse cx="748.85" cy="612.5" rx="6.8" ry="3.2" stroke-width="1.6" fill="#fff"/><ellipse cx="748.85" cy="620.6" rx="6.8" ry="3.2" stroke-width="1.6" fill="#fff"/><ellipse cx="748.85" cy="628.7" rx="6.8" ry="3.2" stroke-width="1.6" fill="#fff"/><ellipse cx="748.85" cy="636.8" rx="6.8" ry="3.2" stroke-width="1.6" fill="#fff"/><path d="M742,588.2 H737.6 V602.8 H742 M755.7,588.2 H760.3 V602.8 H755.7" stroke-width="1.1"/><rect x="741.2" y="642.4" width="15.2" height="4.4" rx="1"/><path d="M742.5,646.8 L742.5,661"/><path d="M755.4,646.8 L755.4,661"/><rect x="741.4" y="661" width="15.2" height="3" rx="0.8"/><rect x="738.8" y="664.2" width="20.2" height="14.6" rx="1" stroke-width="1.2"/><path d="M748.8,664.2 L748.8,678.8"/><path d="M741.5,678.8 V713.5 A7.3,7.3 0 0 0 756.1,713.5 V678.8"/>
</g></svg>
</body></html>
